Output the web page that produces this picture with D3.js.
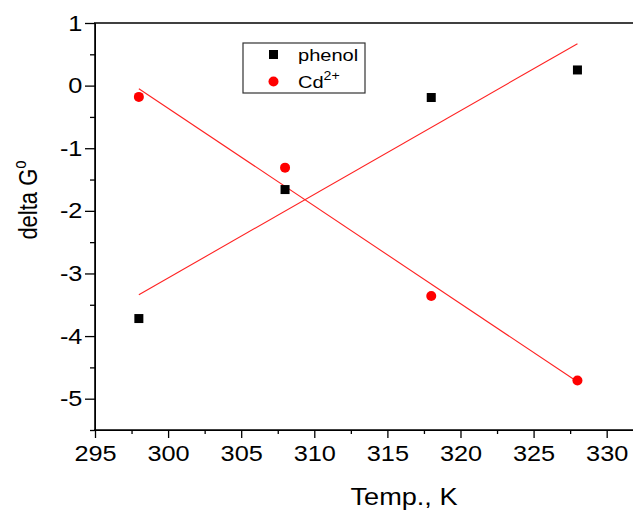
<!DOCTYPE html>
<html>
<head>
<meta charset="utf-8">
<script src="https://cdn.jsdelivr.net/npm/d3@7"></script>
<style>
  body { margin: 0; background: #fff; }
  svg { font-family: "Liberation Sans", Arial, sans-serif; }
</style>
</head>
<body>
<div id="chart"></div>
<script>
// data
var temps = [298, 308, 318, 328];
var phenol = [-3.72, -1.66, -0.19, 0.25];
var cadmium = [-0.18, -1.31, -3.36, -4.71];
// fitted lines, end points
var fitX = [298, 328];
var phenolFit = [-3.34, 0.67];
var cadmiumFit = [-0.05, -4.73];
var xTicks = [295, 300, 305, 310, 315, 320, 325, 330];
var yTicks = [-5, -4, -3, -2, -1, 0, 1];

var svgWidth = 633, svgHeight = 510;
var stretch = 1.15;

var svg = d3.select("#chart").append("svg")
  .attr("width", svgWidth)
  .attr("height", svgHeight);

var x = d3.scaleLinear().domain([295, 331.8]).range([95, 633]);
var y = d3.scaleLinear().domain([-5.5, 1]).range([430, 23]);

// minor ticks
var xMinor = xTicks.slice(0, -1).map(d => d + 2.5);
var yMinor = [-5.5].concat(yTicks.slice(0, -1).map(d => d + 0.5));

svg.append("g")
  .attr("transform", "translate(0,430)")
  .call(d3.axisBottom(x).tickValues(xMinor).tickSize(4).tickSizeOuter(0).tickFormat(""))
  .call(g => g.select(".domain").remove());

svg.append("g")
  .attr("transform", "translate(95,0)")
  .call(d3.axisLeft(y).tickValues(yMinor).tickSize(5).tickSizeOuter(0).tickFormat(""))
  .call(g => g.select(".domain").remove());

// major ticks and labels (plain hyphen for minus, as in the original)
var xAxis = svg.append("g")
  .attr("transform", "translate(0,430)")
  .call(d3.axisBottom(x).tickValues(xTicks).tickSize(8).tickSizeOuter(0).tickPadding(7).tickFormat(d => String(d)));
xAxis.selectAll("text")
  .attr("font-size", 22)
  .attr("font-family", "Liberation Sans, Arial, sans-serif")
  .attr("fill", "#000")
  .attr("transform", `scale(${stretch},1)`);

var yAxis = svg.append("g")
  .attr("transform", "translate(95,0)")
  .call(d3.axisLeft(y).tickValues(yTicks).tickSize(10).tickSizeOuter(0).tickPadding(1).tickFormat(d => String(d)));
yAxis.selectAll("text")
  .attr("font-size", 22)
  .attr("font-family", "Liberation Sans, Arial, sans-serif")
  .attr("fill", "#000")
  .attr("transform", `scale(${stretch},1)`);

svg.selectAll(".tick line").attr("stroke", "#000").attr("stroke-width", 1.3);

// axis lines and top frame
svg.append("line").attr("x1", 95).attr("x2", 95).attr("y1", 23).attr("y2", 431)
  .attr("stroke", "#000").attr("stroke-width", 1.6);
svg.append("line").attr("x1", 94).attr("x2", 633).attr("y1", 430).attr("y2", 430)
  .attr("stroke", "#000").attr("stroke-width", 1.6);
svg.append("line").attr("x1", 94).attr("x2", 633).attr("y1", 23).attr("y2", 23)
  .attr("stroke", "#000").attr("stroke-width", 1.3);

// fit lines
var fits = [phenolFit, cadmiumFit];
svg.selectAll(".fit")
  .data(fits)
  .enter()
  .append("line")
  .attr("class", "fit")
  .attr("x1", x(fitX[0]))
  .attr("x2", x(fitX[1]))
  .attr("y1", d => y(d[0]))
  .attr("y2", d => y(d[1]))
  .attr("stroke", "#f22")
  .attr("stroke-width", 1.1);

// points
svg.selectAll(".sq")
  .data(phenol)
  .enter()
  .append("rect")
  .attr("x", (d, i) => x(temps[i]) - 4.5)
  .attr("y", d => y(d) - 4.5)
  .attr("width", 9)
  .attr("height", 9)
  .attr("fill", "#000");

svg.selectAll(".dot")
  .data(cadmium)
  .enter()
  .append("circle")
  .attr("cx", (d, i) => x(temps[i]))
  .attr("cy", d => y(d))
  .attr("r", 5)
  .attr("fill", "#f00");

// axis titles
svg.append("text")
  .attr("transform", `translate(404,505) scale(1.18,1)`)
  .attr("text-anchor", "middle")
  .attr("font-size", 23)
  .text("Temp., K");

var yl = svg.append("text")
  .attr("transform", `translate(37,200) scale(1.18,1) rotate(-90)`)
  .attr("text-anchor", "middle")
  .attr("font-size", 22);
yl.append("tspan").text("delta G");
yl.append("tspan").attr("dy", -9).attr("font-size", 15).text("o");

// legend
var legend = svg.append("g");
legend.append("rect")
  .attr("x", 243).attr("y", 43).attr("width", 122).attr("height", 50)
  .attr("fill", "none").attr("stroke", "#333").attr("stroke-width", 1.2);
legend.append("rect")
  .attr("x", 269).attr("y", 50).attr("width", 9).attr("height", 9).attr("fill", "#000");
legend.append("circle")
  .attr("cx", 273.5).attr("cy", 81.5).attr("r", 5).attr("fill", "#f00");
legend.append("text")
  .attr("transform", "translate(298,61) scale(1.18,1)")
  .attr("font-size", 17)
  .text("phenol");
var cd = legend.append("text")
  .attr("transform", "translate(298,88) scale(1.18,1)")
  .attr("font-size", 17);
cd.append("tspan").text("Cd");
cd.append("tspan").attr("dy", -8).attr("font-size", 12).text("2+");
</script>
</body>
</html>
